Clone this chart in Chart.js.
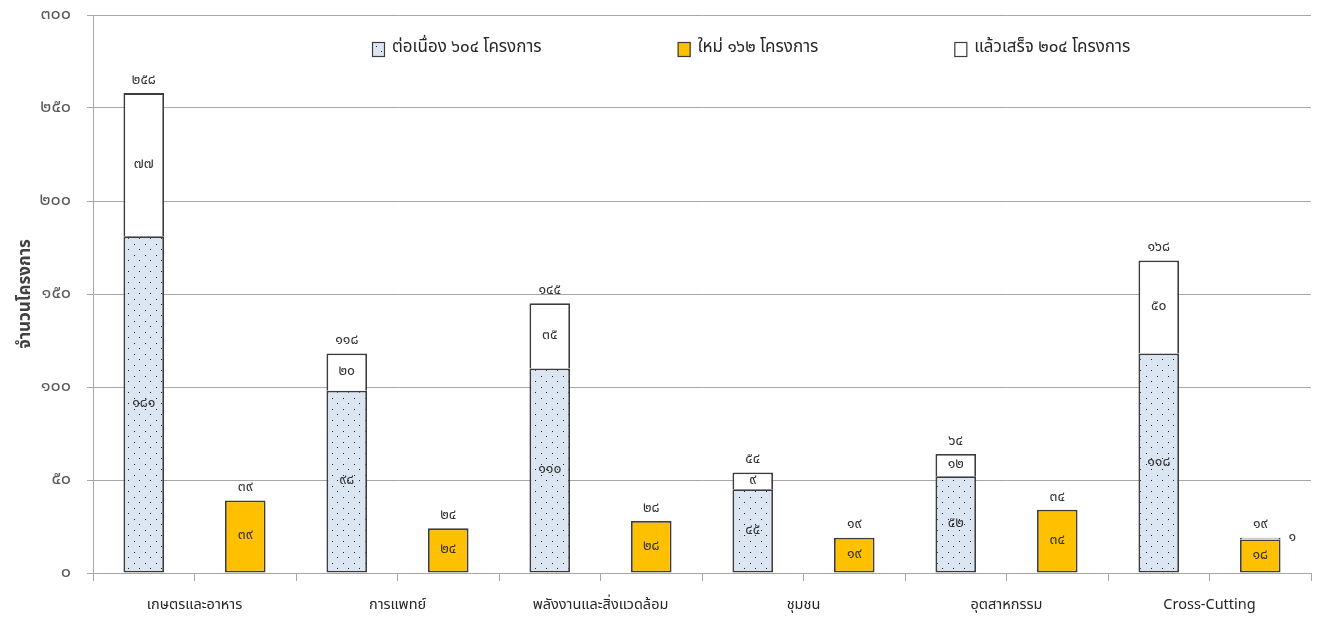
<!DOCTYPE html>
<html>
<head>
<meta charset="utf-8">
<script src="https://cdn.jsdelivr.net/npm/chart.js@4.4.1/dist/chart.umd.min.js"></script>
<style>
  html, body { margin: 0; padding: 0; background: #fff; }
  #wrap { width: 1322px; height: 619px; position: relative; }
</style>
</head>
<body>
<div id="wrap"><canvas id="chart" width="1322" height="619"></canvas></div>
<script>
// Projects per field, split by status
const categories = ['เกษตรและอาหาร', 'การแพทย์', 'พลังงานและสิ่งแวดล้อม', 'ชุมชน', 'อุตสาหกรรม', 'Cross-Cutting'];
const ongoing = [181, 98, 110, 45, 52, 118];        // ต่อเนื่อง
const newProjects = [39, 24, 28, 19, 34, 18];       // ใหม่
const completed = [77, 20, 35, 9, 12, 50];          // แล้วเสร็จ (stacked on ต่อเนื่อง)
const completedOnNew = [0, 0, 0, 0, 0, 1];          // แล้วเสร็จ (stacked on ใหม่)
const yTicks = [0, 50, 100, 150, 200, 250, 300];
const seriesNames = ['ต่อเนื่อง', 'ใหม่', 'แล้วเสร็จ'];
const unitWord = 'โครงการ';
const axisTitle = 'จำนวนโครงการ';

const THAI_DIGITS = '๐๑๒๓๔๕๖๗๘๙';
const toThai = n => String(n).replace(/\d/g, d => THAI_DIGITS[d]);
const sum = a => a.reduce((s, v) => s + v, 0);
const FONT = 'Tahoma, "Noto Sans Thai", "Noto Sans", "DejaVu Sans", sans-serif';

const canvas = document.getElementById('chart');
const ctx = canvas.getContext('2d');

// light blue fill with a staggered dot grid
function dotPattern() {
  const t = document.createElement('canvas');
  t.width = 11; t.height = 11;
  const g = t.getContext('2d');
  g.fillStyle = '#dce6f2';
  g.fillRect(0, 0, 11, 11);
  g.fillStyle = '#1e1e1e';
  g.fillRect(2, 2, 1, 1);
  g.fillRect(7, 7, 1, 1);
  return ctx.createPattern(t, 'repeat');
}
const dots = dotPattern();

// two slots per field: [ongoing + completed] then [new + completed]
const slotLabels = categories.flatMap(c => [c + ' ๑', c + ' ๒']);
const nz = v => (v ? v : null);
const ongoingSlots = ongoing.flatMap(v => [v, null]);
const newSlots = newProjects.flatMap(v => [null, v]);
const completedSlots = completed.flatMap((v, i) => [nz(v), nz(completedOnNew[i])]);

const BORDER = '#3c3c3c';
const GRID = '#a6a6a6';

const legendItems = [
  { text: `${seriesNames[0]} ${toThai(sum(ongoing))} ${unitWord}`, fill: dots },
  { text: `${seriesNames[1]} ${toThai(sum(newProjects))} ${unitWord}`, fill: '#ffc000' },
  { text: `${seriesNames[2]} ${toThai(sum(completed) + sum(completedOnNew))} ${unitWord}`, fill: '#ffffff' }
];

const valueLabels = {
  id: 'valueLabels',
  afterDatasetsDraw(chart) {
    const c = chart.ctx;
    const yScale = chart.scales.y;
    c.save();
    c.font = `14px ${FONT}`;
    c.fillStyle = '#333333';
    c.textBaseline = 'middle';
    const tops = [];
    chart.data.datasets.forEach((ds, di) => {
      const meta = chart.getDatasetMeta(di);
      meta.data.forEach((bar, j) => {
        const v = ds.data[j];
        if (v == null) return;
        const p = bar.getProps(['x', 'y', 'base', 'width'], true);
        const h = Math.abs(p.base - p.y);
        const cy = (p.y + p.base) / 2;
        if (h < 10) {
          c.textAlign = 'left';
          c.fillText(toThai(v), p.x + p.width / 2 + 8, cy);
        } else {
          c.textAlign = 'center';
          c.fillText(toThai(v), p.x, cy);
        }
        tops[j] = tops[j] || { x: p.x, total: 0 };
        tops[j].total += v;
      });
    });
    c.textAlign = 'center';
    tops.forEach(t => {
      if (!t) return;
      c.fillText(toThai(t.total), t.x, yScale.getPixelForValue(t.total) - 12);
    });
    c.restore();
  }
};

const topLegend = {
  id: 'topLegend',
  afterDraw(chart) {
    const c = chart.ctx;
    const area = chart.chartArea;
    c.save();
    c.font = `17px ${FONT}`;
    c.textBaseline = 'middle';
    c.textAlign = 'left';
    let x = area.left + 279;
    const y = area.top + 34;
    legendItems.forEach(item => {
      c.fillStyle = item.fill;
      c.fillRect(x, y - 7, 13, 15);
      c.strokeStyle = BORDER;
      c.lineWidth = 1.2;
      c.strokeRect(x + 0.5, y - 6.5, 12, 14);
      c.fillStyle = '#262626';
      c.fillText(item.text, x + 20, y);
      x += 20 + c.measureText(item.text).width + 136;
    });
    c.restore();
  }
};

const barCommon = {
  borderColor: BORDER,
  borderWidth: 1.8,
  borderSkipped: false,
  categoryPercentage: 1,
  barPercentage: 0.4
};

new Chart(ctx, {
  type: 'bar',
  data: {
    labels: slotLabels,
    datasets: [
      Object.assign({ label: seriesNames[0], data: ongoingSlots, backgroundColor: dots }, barCommon),
      Object.assign({ label: seriesNames[1], data: newSlots, backgroundColor: '#ffc000' }, barCommon),
      Object.assign({ label: seriesNames[2], data: completedSlots, backgroundColor: '#ffffff' }, barCommon, { borderSkipped: 'start' })
    ]
  },
  options: {
    responsive: false,
    animation: false,
    layout: { padding: { top: 15, right: 11, bottom: 0, left: 0 } },
    plugins: {
      legend: { display: false },
      tooltip: { enabled: false }
    },
    scales: {
      x: {
        stacked: true,
        offset: true,
        weight: 0,
        grid: { offset: true, drawOnChartArea: false, color: GRID, tickLength: 8 },
        border: { color: GRID, width: 1 },
        ticks: { display: false },
        afterFit(s) { s.height = 8; }
      },
      xc: {
        type: 'category',
        labels: categories,
        position: 'bottom',
        offset: true,
        weight: 1,
        grid: { display: false, drawTicks: false },
        border: { display: false },
        ticks: { color: '#262626', font: { family: FONT, size: 14.5 }, padding: 16, maxRotation: 0, autoSkip: false },
        afterFit(s) { s.height = 38; s.paddingLeft = 0; s.paddingRight = 0; }
      },
      y: {
        stacked: true,
        min: 0,
        max: 300,
        afterBuildTicks(s) { s.ticks = yTicks.map(v => ({ value: v })); },
        grid: { color: GRID, tickLength: 6 },
        border: { color: GRID, width: 1 },
        ticks: {
          color: '#595959',
          font: { family: FONT, size: 18 },
          padding: 16,
          callback: v => toThai(v)
        },
        title: {
          display: true,
          text: axisTitle,
          color: '#404040',
          font: { family: FONT, size: 17, weight: 'bold' },
          padding: { top: 16, bottom: 0 }
        },
        afterFit(s) { s.width = 93; s.paddingTop = 0; s.paddingBottom = 0; }
      }
    }
  },
  plugins: [valueLabels, topLegend]
});
</script>
</body>
</html>
